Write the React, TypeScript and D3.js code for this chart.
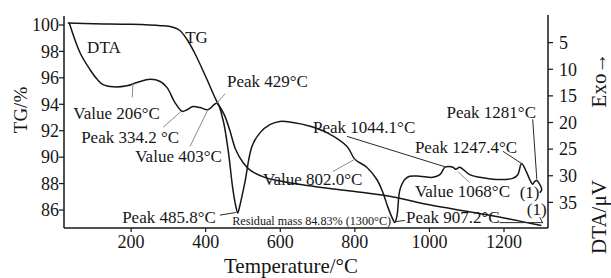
import React from "react";
import * as d3 from "d3";

// ---- data ----
const tgTemp = [30, 100, 200, 280, 310, 330, 350, 370, 400, 430, 450, 465, 480, 500, 520, 560, 600, 650, 700, 800, 900, 1000, 1100, 1200, 1300];
const tgMass = [100.15, 100.1, 100.05, 99.95, 99.85, 99.6, 98.9, 97.9, 96.1, 94.2, 93.2, 92.0, 90.6, 89.6, 89.0, 88.45, 88.2, 87.95, 87.75, 87.4, 87.0, 86.4, 85.9, 85.4, 84.83];

const dtaTemp = [34, 63, 90, 109, 125, 152, 189, 216, 251, 278, 296, 318, 337, 350, 366, 385, 406, 430, 446, 460, 473, 481, 486, 491, 505, 524, 546, 572, 599, 634, 680, 725, 779, 800, 832, 859, 875, 888, 902, 907, 913, 921, 934, 947, 974, 1009, 1028, 1041, 1046, 1063, 1071, 1081, 1108, 1135, 1180, 1223, 1237, 1247, 1261, 1269, 1277, 1282, 1288, 1293, 1301, 1296];
const dtaValue = [1.26, 6.9, 10.1, 11.9, 12.9, 13.3, 13.1, 12.5, 11.9, 12.3, 13.4, 16.3, 17.9, 17.6, 17.0, 17.2, 17.6, 16.4, 19.4, 25.1, 32.6, 35.8, 37.0, 35.8, 31.3, 24.5, 21.9, 20.4, 19.8, 20.0, 20.7, 21.9, 24.5, 26.9, 28.4, 30.7, 33.1, 35.8, 38.2, 38.8, 37.5, 32.6, 30.7, 30.1, 30.1, 30.3, 29.8, 28.4, 28.3, 28.4, 28.8, 28.4, 29.8, 30.3, 30.7, 30.5, 29.8, 27.7, 29.4, 30.7, 31.6, 31.1, 30.9, 31.3, 32.6, 33.2];

const xTicks = [200, 400, 600, 800, 1000, 1200];
const tgTicks = [86, 88, 90, 92, 94, 96, 98, 100];
const dtaTicks = [5, 10, 15, 20, 25, 30, 35];

// annotations: text position and leader ends in (temperature, DTA µV) units
const labelText = ["DTA", "TG", "Value 206°C", "Peak 429°C", "Peak 334.2 °C", "Value 403°C", "Peak 485.8°C", "Peak 907.2°C", "Value 802.0°C", "Peak 1044.1°C", "Value 1068°C", "Peak 1247.4°C", "Peak 1281°C", "(1)", "(1)"];
const labelT = [82, 345, 45, 457, 66, 211, 176, 937, 554, 688, 961, 961, 1046, 1242, 1261];
const labelV = [6.9, 5.0, 19.3, 13.3, 23.8, 27.5, 38.9, 38.9, 31.8, 21.9, 33.9, 25.8, 19.1, 34.1, 37.4];

const residualText = "Residual mass 84.83% (1300°C)";
const residualT = 471;
const residualV = 39.3;

// leader lines: [T1, v1, T2, v2], tone 0 = grey, 1 = dark
const leaderT1 = [203, 452, 286, 358, 438, 934, 741, 779, 1076, 1197, 1277, 1296, 1188];
const leaderV1 = [15.3, 14.6, 20.9, 24.5, 37.4, 38.4, 29.2, 22.6, 29.2, 25.4, 19.4, 37.8, 38.8];
const leaderT2 = [205, 430, 334, 406, 481, 910, 800, 1041, 1108, 1247, 1288, 1304, 1304];
const leaderV2 = [12.7, 16.4, 17.9, 17.6, 36.9, 38.6, 26.9, 28.3, 31.3, 27.7, 30.7, 38.9, 38.8];
const leaderTone = [0, 0, 0, 0, 1, 1, 0, 1, 0, 1, 1, 1, 1];

const FONT = "'Liberation Serif', 'Times New Roman', Times, serif";

export default function App() {
  const W = 611, H = 278;
  const left = 64, right = 548, top = 16, bottom = 228;
  const x = d3.scaleLinear().domain([20, 1318]).range([left, right]);
  const yL = d3.scaleLinear().domain([84.64, 100.68]).range([bottom, top]);
  const yR = d3.scaleLinear().domain([0, 40]).range([top, bottom + 1]);

  const tgLine = d3.line<number>().x((_, i) => x(tgTemp[i])).y((d) => yL(d)).curve(d3.curveCatmullRom.alpha(0.5));
  const dtaLine = d3.line<number>().x((_, i) => x(dtaTemp[i])).y((d) => yR(d)).curve(d3.curveCatmullRom.alpha(0.5));

  const ink = "#161616";

  return (
    <svg width={W} height={H} style={{ position: "absolute", left: 0, top: 0, background: "#fff" }} fontFamily={FONT}>
      <rect x={0} y={0} width={W} height={H} fill="#fff" />
      {/* curves */}
      <path d={tgLine(tgMass) || ""} fill="none" stroke={ink} strokeWidth={1.5} />
      <path d={dtaLine(dtaValue) || ""} fill="none" stroke={ink} strokeWidth={1.5} />

      {/* leaders */}
      {leaderT1.map((t, i) => (
        <line key={"ld" + i} x1={x(t)} y1={yR(leaderV1[i])} x2={x(leaderT2[i])} y2={yR(leaderV2[i])}
          stroke={leaderTone[i] ? "#2a2a2a" : "#8a8a8a"} strokeWidth={1} />
      ))}

      {/* labels */}
      {labelText.map((s, i) => (
        <text key={"lb" + i} x={x(labelT[i])} y={yR(labelV[i])} fontSize={17} fill={ink}>{s}</text>
      ))}
      <text x={x(residualT)} y={yR(residualV)} fontSize={13} fill={ink} textLength={159} lengthAdjust="spacingAndGlyphs">{residualText}</text>

      {/* axes */}
      <line x1={left} y1={top} x2={left} y2={bottom} stroke={ink} strokeWidth={1.5} />
      <line x1={right} y1={top - 1} x2={right} y2={bottom} stroke={ink} strokeWidth={1.5} />
      <line x1={left} y1={bottom} x2={right} y2={bottom} stroke={ink} strokeWidth={1.5} />

      {xTicks.map((t) => (
        <g key={"xt" + t}>
          <line x1={x(t)} x2={x(t)} y1={bottom} y2={bottom + 4} stroke={ink} strokeWidth={1.2} />
          <text x={x(t)} y={248} fontSize={18} textAnchor="middle" fill={ink}>{t}</text>
        </g>
      ))}
      {tgTicks.map((t) => (
        <g key={"yl" + t}>
          <line x1={left - 5} x2={left} y1={yL(t)} y2={yL(t)} stroke={ink} strokeWidth={1.2} />
          <text x={left - 5} y={yL(t)} dy="0.35em" fontSize={18} textAnchor="end" fill={ink}>{t}</text>
        </g>
      ))}
      {dtaTicks.map((t) => (
        <g key={"yr" + t}>
          <line x1={right} x2={right + 5} y1={yR(t)} y2={yR(t)} stroke={ink} strokeWidth={1.2} />
          <text x={right + 11} y={yR(t)} dy="0.35em" fontSize={18} textAnchor="start" fill={ink}>{t}</text>
        </g>
      ))}

      {/* axis titles */}
      <text x={291} y={273} fontSize={21} textAnchor="middle" fill={ink}>Temperature/°C</text>
      <text transform="translate(27,110) rotate(-90)" fontSize={19} textAnchor="middle" fill={ink}>TG/%</text>
      <text transform="translate(606,217) rotate(-90)" fontSize={21} textAnchor="middle" fill={ink}>DTA/μV</text>
      <text transform="translate(606,80) rotate(-90)" fontSize={21} textAnchor="middle" fill={ink}>Exo→</text>
    </svg>
  );
}
